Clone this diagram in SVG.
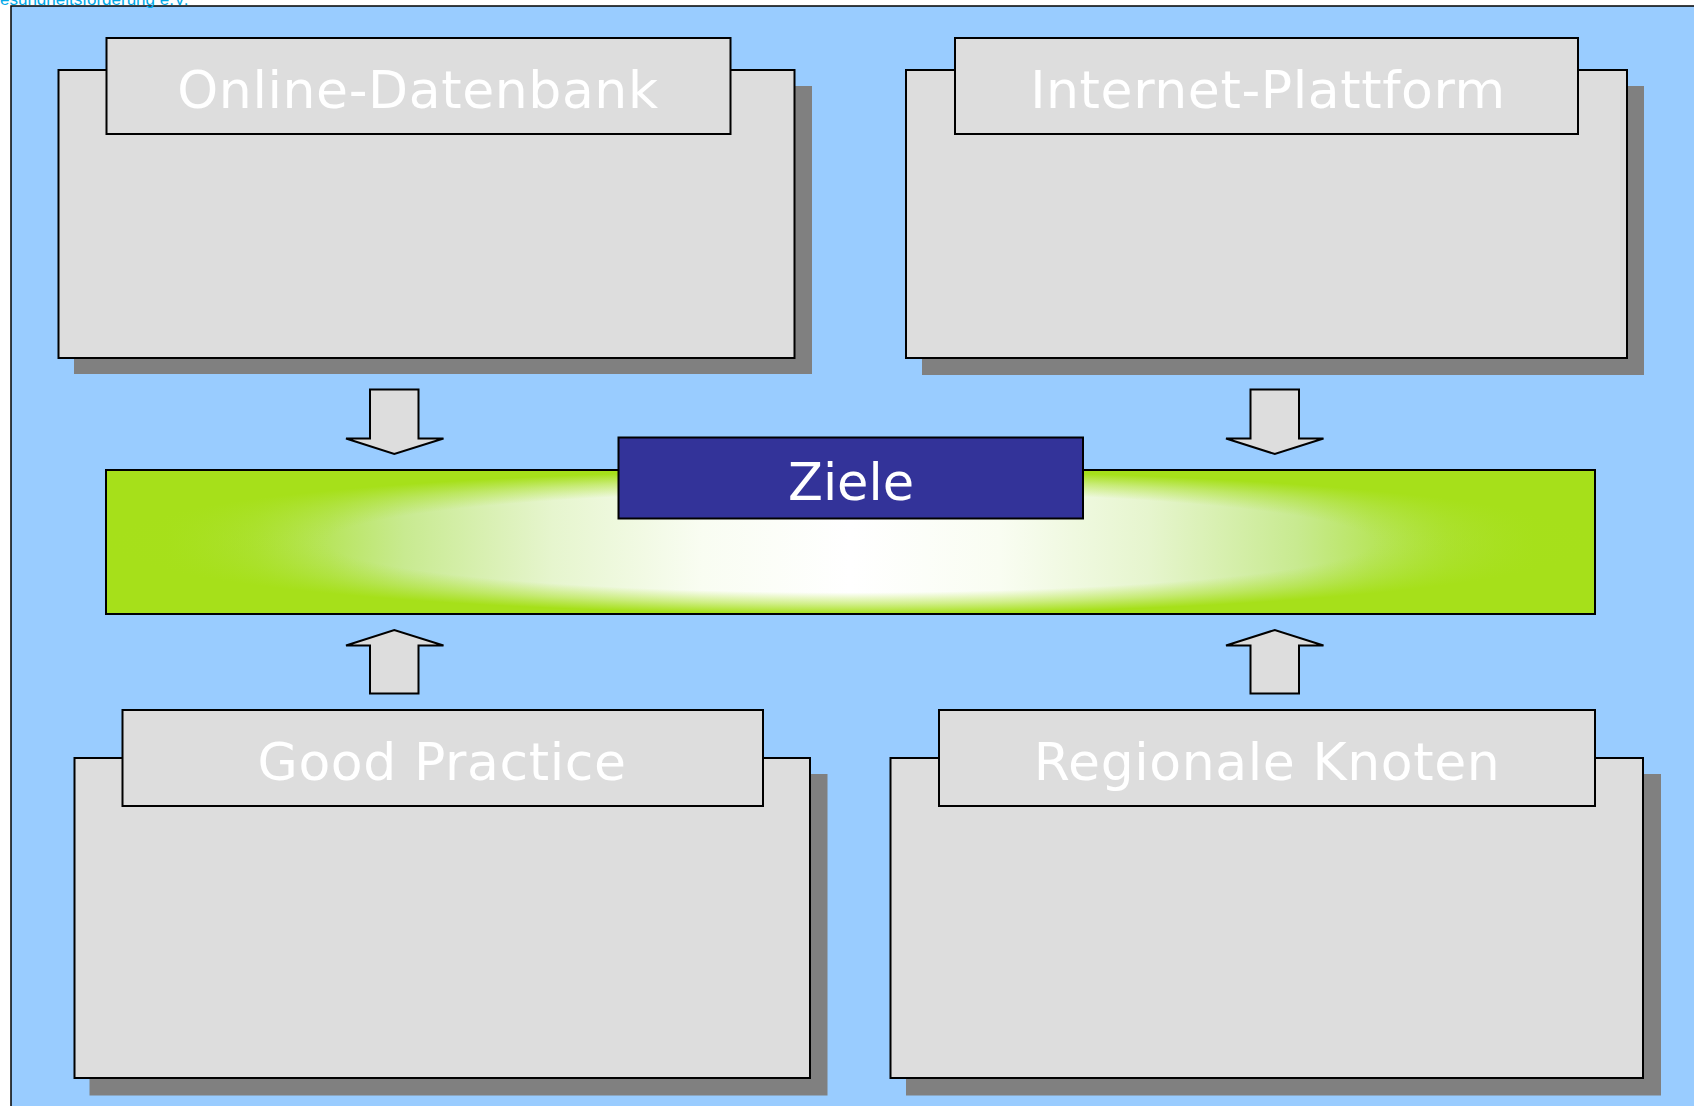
<svg xmlns="http://www.w3.org/2000/svg" width="1694" height="1106" viewBox="0 0 1694 1106">
<defs>
<style>
.box{fill:#DDDDDD;stroke:#000;stroke-width:2}
.shadow{fill:#808080}
.title{font-family:"DejaVu Sans","Verdana",sans-serif;font-size:52px;fill:#FFFFFF;text-anchor:middle;letter-spacing:0.6px}
.arrow{fill:#DDDDDD;stroke:#000;stroke-width:2;stroke-linejoin:miter}
</style>
<linearGradient id="hglow" x1="0" y1="0" x2="1" y2="0">
<stop offset="0" stop-color="#A6E01A"/>
<stop offset="0.04" stop-color="#A7E01C"/>
<stop offset="0.1" stop-color="#AEE238"/>
<stop offset="0.15" stop-color="#B8E55E"/>
<stop offset="0.2" stop-color="#C8EA90"/>
<stop offset="0.3" stop-color="#E6F5CE"/>
<stop offset="0.4" stop-color="#F9FDF2"/>
<stop offset="0.5" stop-color="#FFFFFF"/>
<stop offset="0.6" stop-color="#F9FDF2"/>
<stop offset="0.7" stop-color="#E6F5CE"/>
<stop offset="0.8" stop-color="#C8EA90"/>
<stop offset="0.85" stop-color="#B8E55E"/>
<stop offset="0.9" stop-color="#AEE238"/>
<stop offset="0.96" stop-color="#A7E01C"/>
<stop offset="1" stop-color="#A6E01A"/>
</linearGradient>
<radialGradient id="rglow" cx="0.5" cy="0.5" r="0.5" gradientUnits="objectBoundingBox">
<stop offset="0" stop-color="#A6E01A" stop-opacity="0"/>
<stop offset="0.7" stop-color="#A6E01A" stop-opacity="0"/>
<stop offset="0.86" stop-color="#A6E01A" stop-opacity="0.5"/>
<stop offset="1" stop-color="#A6E01A" stop-opacity="1"/>
</radialGradient>
</defs>
<rect x="0" y="0" width="1694" height="1106" fill="#FFFFFF"/>
<rect id="frame" x="11" y="6" width="1700" height="1120" fill="#99CCFF" stroke="#000" stroke-width="1.5"/>
<text x="0" y="5" font-family="Liberation Sans, Arial, sans-serif" font-size="17" fill="#00A8E8">esundheitsförderung e.V.</text>

<g id="online-datenbank">
<rect class="shadow" x="74" y="86" width="738" height="288"/>
<rect class="box" x="58.5" y="70" width="736" height="288"/>
<rect class="box" x="106.5" y="38" width="624" height="96"/>
<text class="title" x="418" y="108">Online-Datenbank</text>
</g>

<g id="internet-plattform">
<rect class="shadow" x="922" y="86" width="722" height="289"/>
<rect class="box" x="906" y="70" width="721" height="288"/>
<rect class="box" x="955" y="38" width="623" height="96"/>
<text class="title" x="1268" y="108" letter-spacing="1.2">Internet-Plattform</text>
</g>

<g id="ziele">
<rect x="106" y="470" width="1489" height="144" fill="url(#hglow)"/>
<rect x="106" y="470" width="1489" height="144" fill="url(#rglow)" stroke="#000" stroke-width="2"/>
<rect x="618.5" y="437.5" width="464.5" height="81" fill="#333399" stroke="#000" stroke-width="2"/>
<text x="851" y="500" font-family="DejaVu Sans, Verdana, sans-serif" font-size="51" fill="#FFFFFF" text-anchor="middle">Ziele</text>
</g>

<g id="good-practice">
<rect class="shadow" x="89.5" y="774" width="738" height="321.5"/>
<rect class="box" x="74.5" y="758" width="735.5" height="320"/>
<rect class="box" x="122.5" y="710" width="640.5" height="96"/>
<text class="title" x="442" y="780">Good Practice</text>
</g>

<g id="regionale-knoten">
<rect class="shadow" x="906" y="774" width="755" height="321.5"/>
<rect class="box" x="890.5" y="758" width="752.5" height="320"/>
<rect class="box" x="939" y="710" width="656" height="96"/>
<text class="title" x="1267" y="780">Regionale Knoten</text>
</g>

<g id="connectors">
<path class="arrow" d="M370,389.5 H418.5 V438.5 H443.5 L394.3,454 L346,438.5 H370 Z"/>
<path class="arrow" d="M1250.5,389.5 H1299 V438.5 H1323.5 L1274.8,454 L1226,438.5 H1250.5 Z"/>
<path class="arrow" d="M370,693.5 H418.5 V645.5 H443.5 L394.3,630 L346,645.5 H370 Z"/>
<path class="arrow" d="M1250.5,693.5 H1299 V645.5 H1323.5 L1274.8,630 L1226,645.5 H1250.5 Z"/>
</g>
</svg>
